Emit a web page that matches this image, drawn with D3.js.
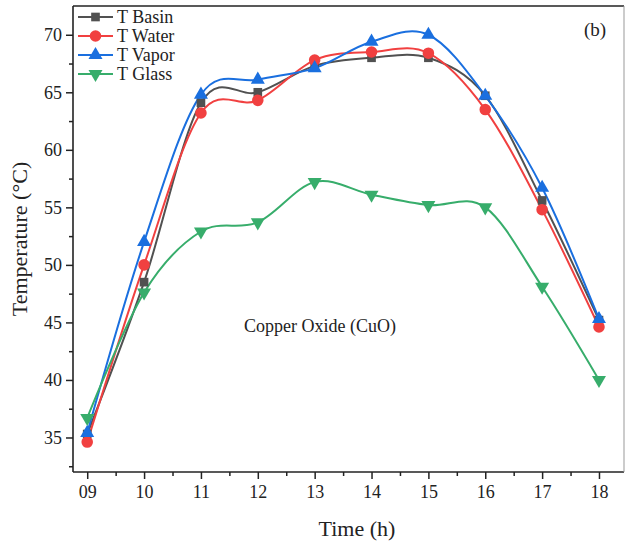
<!DOCTYPE html>
<html>
<head>
<meta charset="utf-8">
<script src="https://cdn.jsdelivr.net/npm/d3@7"></script>
<style>
  body { margin: 0; background: #fff; }
  text { font-family: "Liberation Serif", "Times New Roman", serif; }
</style>
</head>
<body>
<div id="chart"></div>
<script>
// data
let hours = [9, 10, 11, 12, 13, 14, 15, 16, 17, 18];
let tBasin = [35.3, 48.5, 64.1, 65.0, 67.3, 68.0, 68.0, 64.7, 55.6, 45.2];
let tWater = [34.6, 50.0, 63.2, 64.3, 67.8, 68.5, 68.4, 63.5, 54.8, 44.6];
let tVapor = [35.4, 52.0, 64.8, 66.1, 67.1, 69.4, 70.0, 64.7, 56.7, 45.3];
let tGlass = [36.7, 47.6, 52.9, 53.7, 57.2, 56.1, 55.2, 55.0, 48.1, 40.0];
let seriesNames = ["T Basin", "T Water", "T Vapor", "T Glass"];
let xTickLabels = ["09", "10", "11", "12", "13", "14", "15", "16", "17", "18"];
let yTicks = [35, 40, 45, 50, 55, 60, 65, 70];

let svgWidth = 627;
let svgHeight = 546;

// plot frame
let margin = { top: 6, left: 73, bottom: 74, right: 3 };
let width = svgWidth - margin.left - margin.right;
let height = svgHeight - margin.top - margin.bottom;

let svg = d3.select("#chart")
    .append("svg")
    .attr("width", svgWidth)
    .attr("height", svgHeight);

let chartGroup = svg.append("g")
    .attr("transform", `translate(${margin.left}, ${margin.top})`);

let x = d3.scaleLinear().domain([8.75, 18.44]).range([0, width]);
let y = d3.scaleLinear().domain([32, 72.5]).range([height, 0]);

let series = [
    { name: seriesNames[0], values: tBasin, color: "#515151", symbol: d3.symbolSquare, size: 75, rot: 0 },
    { name: seriesNames[1], values: tWater, color: "#F14040", symbol: d3.symbolCircle, size: 105, rot: 0 },
    { name: seriesNames[2], values: tVapor, color: "#1A6FDF", symbol: d3.symbolTriangle, size: 85, rot: 0 },
    { name: seriesNames[3], values: tGlass, color: "#37AD6B", symbol: d3.symbolTriangle, size: 85, rot: 180 }
];

// axes
let xAxis = d3.axisBottom(x).tickValues(hours).tickSize(7).tickPadding(6)
    .tickFormat((d, i) => xTickLabels[i]);
let xMinor = d3.axisBottom(x).tickValues(d3.range(9.5, 18.5, 1)).tickSize(4).tickFormat("");
let yAxis = d3.axisLeft(y).tickValues(yTicks).tickSize(7).tickPadding(4);
let yMinor = d3.axisLeft(y).tickValues(d3.range(32.5, 72.5, 5)).tickSize(4).tickFormat("");

let xg = chartGroup.append("g").attr("transform", `translate(0, ${height})`).call(xAxis);
chartGroup.append("g").attr("transform", `translate(0, ${height})`).call(xMinor);
let yg = chartGroup.append("g").call(yAxis);
chartGroup.append("g").call(yMinor);

chartGroup.selectAll(".domain").remove();
chartGroup.selectAll(".tick line").attr("stroke", "#222").attr("stroke-width", 1.5);
xg.selectAll("text").attr("font-size", 18).attr("fill", "#222");
yg.selectAll("text").attr("font-size", 18).attr("fill", "#222");

// frame
chartGroup.append("line").attr("x1", 0).attr("x2", 0).attr("y1", 0).attr("y2", height)
    .attr("stroke", "#222").attr("stroke-width", 1.6);
chartGroup.append("line").attr("x1", 0).attr("x2", width).attr("y1", height).attr("y2", height)
    .attr("stroke", "#222").attr("stroke-width", 1.6);
chartGroup.append("line").attr("x1", 0).attr("x2", width).attr("y1", 0).attr("y2", 0)
    .attr("stroke", "#222").attr("stroke-width", 1.6);
chartGroup.append("line").attr("x1", width).attr("x2", width).attr("y1", 0).attr("y2", height)
    .attr("stroke", "#999").attr("stroke-width", 1);

// lines
let line = d3.line()
    .x((d, i) => x(hours[i]))
    .y(d => y(d))
    .curve(d3.curveCatmullRom.alpha(0));

series.forEach(s => {
    chartGroup.append("path")
        .datum(s.values)
        .attr("fill", "none")
        .attr("stroke", s.color)
        .attr("stroke-width", 2)
        .attr("d", line);
});

series.forEach(s => {
    chartGroup.selectAll(null)
        .data(s.values)
        .enter()
        .append("path")
        .attr("d", d3.symbol().type(s.symbol).size(s.size))
        .attr("fill", s.color)
        .attr("transform", (d, i) => `translate(${x(hours[i])}, ${y(d)}) rotate(${s.rot})`);
});

// legend
let legend = svg.append("g").attr("transform", "translate(78, 17)");
series.forEach((s, i) => {
    let row = legend.append("g").attr("transform", `translate(0, ${i * 19})`);
    row.append("line").attr("x1", 0).attr("x2", 35).attr("y1", 0).attr("y2", 0)
        .attr("stroke", s.color).attr("stroke-width", 2);
    row.append("path").attr("d", d3.symbol().type(s.symbol).size(s.size))
        .attr("fill", s.color)
        .attr("transform", `translate(17.5, 0) rotate(${s.rot})`);
    row.append("text").attr("x", 39).attr("y", 6)
        .attr("font-size", 18).attr("fill", "#222").text(s.name);
});

// annotations
svg.append("text").attr("x", 595).attr("y", 36).attr("text-anchor", "middle")
    .attr("font-size", 19).attr("fill", "#222").text("(b)");
svg.append("text").attr("x", 320).attr("y", 332).attr("text-anchor", "middle")
    .attr("font-size", 18).attr("fill", "#222").text("Copper Oxide (CuO)");

// axis titles
svg.append("text").attr("x", 357).attr("y", 536).attr("text-anchor", "middle")
    .attr("font-size", 22).attr("fill", "#222").text("Time (h)");
svg.append("text")
    .attr("transform", `translate(27, ${margin.top + height / 2}) rotate(-90)`)
    .attr("text-anchor", "middle")
    .attr("font-size", 22).attr("fill", "#222").text("Temperature (°C)");
</script>
</body>
</html>
